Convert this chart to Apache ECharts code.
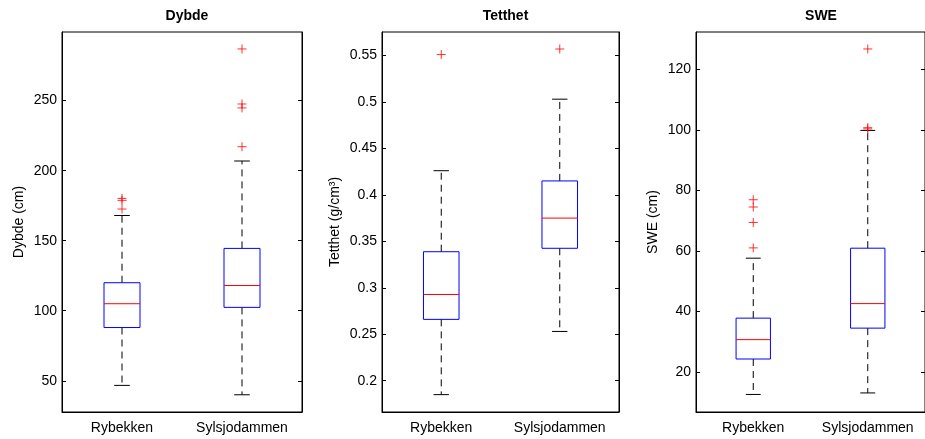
<!DOCTYPE html>
<html>
<head>
<meta charset="utf-8">
<script src="https://cdn.jsdelivr.net/npm/echarts@6/dist/echarts.min.js"></script>
<style>
  html, body { margin: 0; padding: 0; background: #fff; }
  #chart { width: 925px; height: 439px; }
</style>
</head>
<body>
<div id="chart"></div>
<script>
// kategorier
const categories = ['Rybekken', 'Sylsjodammen'];

// boks: [kategori, min, q1, median, q3, maks]
const dybdeBoxes = [[0, 46.7, 88, 105, 120, 168], [1, 40, 102.4, 118, 144.5, 206.9]];
const dybdeOutliers = [[0, 180.2], [0, 178.8], [0, 172.6], [1, 286.9], [1, 247.6], [1, 244.8], [1, 217.1]];
const dybdeTicks = [50, 100, 150, 200, 250];

const tetthetBoxes = [[0, 0.185, 0.266, 0.2928, 0.3388, 0.426], [1, 0.253, 0.3425, 0.375, 0.415, 0.503]];
const tetthetOutliers = [[0, 0.551], [1, 0.557]];
const tetthetTicks = [0.2, 0.25, 0.3, 0.35, 0.4, 0.45, 0.5, 0.55];

const sweBoxes = [[0, 12.6, 24.3, 30.7, 37.8, 57.6], [1, 13.1, 34.5, 42.6, 60.9, 99.8]];
const sweOutliers = [[0, 76.9], [0, 74.5], [0, 69.4], [0, 61], [1, 126.7], [1, 100.7], [1, 100.3]];
const sweTicks = [20, 40, 60, 80, 100, 120];

const font = 'Liberation Sans, Arial, Helvetica, sans-serif';

let chart = echarts.init(document.getElementById('chart'), null, { renderer: 'canvas' });

// tegner en matlab-aktig boks
function renderBox(params, api) {
    let x = api.value(0);
    let low = api.coord([x, api.value(1)]);
    let q1 = api.coord([x, api.value(2)]);
    let med = api.coord([x, api.value(3)]);
    let q3 = api.coord([x, api.value(4)]);
    let high = api.coord([x, api.value(5)]);
    let band = api.size([1, 0])[0];
    let bw = band * 0.3;
    let cw = band * 0.13;
    let cx = low[0];
    let dash = { stroke: '#000', lineWidth: 1, lineDash: [7, 5] };
    let solid = { stroke: '#000', lineWidth: 1 };
    return {
        type: 'group',
        children: [
            { type: 'line', shape: { x1: cx, y1: q3[1], x2: cx, y2: high[1] }, style: dash },
            { type: 'line', shape: { x1: cx, y1: q1[1], x2: cx, y2: low[1] }, style: dash },
            { type: 'line', shape: { x1: cx - cw / 2, y1: high[1], x2: cx + cw / 2, y2: high[1] }, style: solid },
            { type: 'line', shape: { x1: cx - cw / 2, y1: low[1], x2: cx + cw / 2, y2: low[1] }, style: solid },
            { type: 'rect', shape: { x: cx - bw / 2, y: q3[1], width: bw, height: q1[1] - q3[1] },
              style: { fill: 'none', stroke: '#0000ff', lineWidth: 1 } },
            { type: 'line', shape: { x1: cx - bw / 2, y1: med[1], x2: cx + bw / 2, y2: med[1] },
              style: { stroke: '#ff0000', lineWidth: 1 } }
        ]
    };
}

let panels = [
    { title: 'Dybde', name: 'Dybde (cm)', left: 62, width: 240, min: 27.7, max: 299, ticks: dybdeTicks, boxes: dybdeBoxes, out: dybdeOutliers, gap: 36 },
    { title: 'Tetthet', name: 'Tetthet (g/cm³)', left: 382, width: 237, min: 0.1663, max: 0.5753, ticks: tetthetTicks, boxes: tetthetBoxes, out: tetthetOutliers, gap: 40 },
    { title: 'SWE', name: 'SWE (cm)', left: 696, width: 240, min: 6.8, max: 132.3, ticks: sweTicks, boxes: sweBoxes, out: sweOutliers, gap: 36 }
];

let option = {
    animation: false,
    backgroundColor: '#fff',
    textStyle: { fontFamily: font },
    title: [],
    grid: [],
    xAxis: [],
    yAxis: [],
    series: []
};

panels.forEach((p, i) => {
    option.title.push({
        text: p.title,
        left: p.left + p.width / 2,
        top: 4,
        textAlign: 'center',
        textStyle: { fontFamily: font, fontSize: 14, fontWeight: 'bold', color: '#000' }
    });
    option.grid.push({
        left: p.left, top: 32, width: p.width, height: 380,
        show: true, borderColor: '#000', borderWidth: 1, backgroundColor: 'transparent'
    });
    option.xAxis.push({
        type: 'category', gridIndex: i, data: categories,
        axisLine: { show: true, lineStyle: { color: '#000', width: 1 } },
        axisTick: { show: false },
        axisLabel: { color: '#000', fontSize: 14, fontFamily: font, margin: 9, interval: 0, hideOverlap: false },
        splitLine: { show: false }
    });
    option.yAxis.push({
        type: 'value', gridIndex: i, min: p.min, max: p.max,
        name: p.name, nameLocation: 'middle', nameGap: p.gap,
        nameTextStyle: { color: '#000', fontSize: 14, fontFamily: font },
        axisLine: { show: true, lineStyle: { color: '#000', width: 1 } },
        axisTick: { show: true, inside: true, length: 4, customValues: p.ticks, lineStyle: { color: '#000' } },
        axisLabel: { color: '#000', fontSize: 14, fontFamily: font, margin: 5, customValues: p.ticks },
        splitLine: { show: false }
    });
    option.yAxis.push({
        type: 'value', gridIndex: i, position: 'right', min: p.min, max: p.max,
        axisLine: { show: true, lineStyle: { color: '#000', width: 1 } },
        axisTick: { show: true, inside: true, length: 4, customValues: p.ticks, lineStyle: { color: '#000' } },
        axisLabel: { show: false },
        splitLine: { show: false }
    });
    option.series.push({
        type: 'custom', xAxisIndex: i, yAxisIndex: i * 2,
        renderItem: renderBox,
        encode: { x: 0, y: [1, 2, 3, 4, 5] },
        data: p.boxes
    });
    option.series.push({
        type: 'scatter', xAxisIndex: i, yAxisIndex: i * 2,
        symbol: 'path://M0,5L10,5M5,0L5,10',
        symbolSize: 9,
        itemStyle: { color: 'transparent', borderColor: '#ff0000', borderWidth: 1 },
        data: p.out
    });
});

chart.setOption(option);
</script>
</body>
</html>
